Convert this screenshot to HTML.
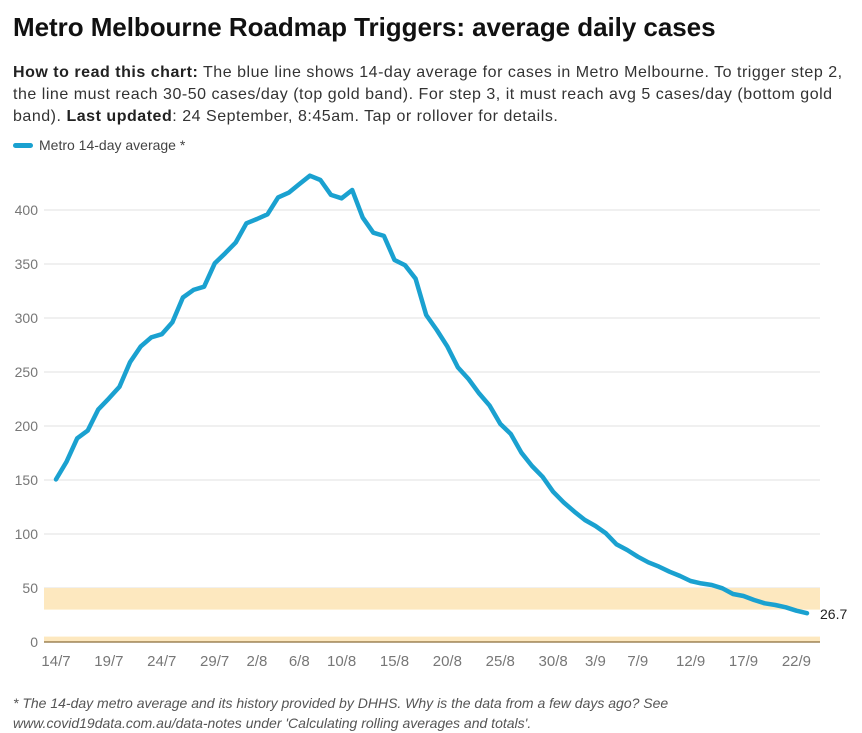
<!DOCTYPE html>
<html><head><meta charset="utf-8"><style>
body{margin:0;width:862px;height:731px;background:#fff;font-family:"Liberation Sans",sans-serif;overflow:hidden;position:relative}
#title{position:absolute;left:13px;top:12px;font-size:26px;font-weight:bold;color:#111;letter-spacing:-0.05px}
#sub{position:absolute;left:13px;top:62px;width:849px;font-size:16px;line-height:22px;color:#333;white-space:nowrap;letter-spacing:0.52px}
#sub b{color:#222}
#legend{position:absolute;left:13px;top:137px;font-size:14px;color:#444;display:flex;align-items:center}
#legend span.sw{display:inline-block;width:20px;height:5px;border-radius:3px;background:#1aa1d0;margin-right:6px}
#foot{position:absolute;left:13px;top:693px;font-size:14px;line-height:20px;color:#555;font-style:italic}
svg{position:absolute;left:0;top:0}
</style></head><body>
<div id="title">Metro Melbourne Roadmap Triggers: average daily cases</div>
<div id="sub"><b>How to read this chart:</b> The blue line shows 14-day average for cases in Metro Melbourne. To trigger step 2,<br>the line must reach 30-50 cases/day (top gold band). For step 3, it must reach avg 5 cases/day (bottom gold<br>band). <b>Last updated</b>: 24 September, 8:45am. Tap or rollover for details.</div>
<div id="legend"><span class="sw"></span>Metro 14-day average *</div>
<svg id="chart" width="862" height="731"></svg>
<div id="foot">* The 14-day metro average and its history provided by DHHS. Why is the data from a few days ago? See<br>www.covid19data.com.au/data-notes under 'Calculating rolling averages and totals'.</div>
<script>
const values=[150.6,167,188.6,195.7,215.4,225.6,236.4,259,273.5,282,285,296,319,326,329,350.6,360,370,387.7,391.7,396,411.7,416,424,431.8,427.8,414,410.8,418.5,393,379,376,353.7,348.8,336.4,
302.8,288.9,273.5,254.3,243.5,230.2,218.8,201.9,192.6,175.3,163,153,139.2,129.3,120.7,113,107.4,100.6,90.4,85.2,79,73.8,69.8,65.1,61.1,56.5,54.3,52.8,49.7,44.4,42.6,38.9,35.8,34.3,32.1,29,26.7];
const yTicks=[0,50,100,150,200,250,300,350,400];
const xTickLabels=["14/7","19/7","24/7","29/7","2/8","6/8","10/8","15/8","20/8","25/8","30/8","3/9","7/9","12/9","17/9","22/9"];
const xTickIdx=[0,5,10,15,19,23,27,32,37,42,47,51,55,60,65,70];
const bands=[[30,50],[0,5]];
const lastLabel="26.7";

const NS="http://www.w3.org/2000/svg",svg=document.getElementById('chart');
const X0=56,X1=807,PL=44,PR=820;
const x=i=>X0+(X1-X0)*i/(values.length-1);
const y=v=>642-v*1.08;
function mk(t,a){const e=document.createElementNS(NS,t);for(const k in a)e.setAttribute(k,a[k]);svg.appendChild(e);return e;}
yTicks.forEach(t=>{
  if(t>0){const l=mk('line',{x1:PL,x2:PR,y1:y(t),y2:y(t),stroke:'#e6e6e6','stroke-width':1.3});
  
  }
  const tx=mk('text',{x:38,y:y(t)+5,'text-anchor':'end','font-size':14,fill:'#777','font-family':'Liberation Sans, sans-serif'});
  tx.textContent=t;
  
  
});
bands.forEach(b=>{
  const r=mk('rect',{x:PL,width:PR-PL,y:y(b[1]),height:y(b[0])-y(b[1]),fill:'#fde8bf'});
  
  
});
const z=mk('line',{x1:PL,x2:PR,y1:y(0),y2:y(0),stroke:'#8a6d3b','stroke-width':1.3});


xTickIdx.forEach((i,k)=>{
  const tx=mk('text',{x:x(i),y:666,'text-anchor':'middle','font-size':15,fill:'#777','font-family':'Liberation Sans, sans-serif'});
  tx.textContent=xTickLabels[k];
  
  
});
const p=mk('path',{d:values.map((v,i)=>(i?'L':'M')+x(i).toFixed(1)+','+y(v).toFixed(1)).join(''),fill:'none',stroke:'#1aa1d0','stroke-width':4.5,'stroke-linejoin':'round','stroke-linecap':'round'});


const lt=mk('text',{x:x(values.length-1)+13,y:y(values[values.length-1])+6,'font-size':14,fill:'#222','font-family':'Liberation Sans, sans-serif'});
lt.textContent=lastLabel;


</script>
</body></html>
